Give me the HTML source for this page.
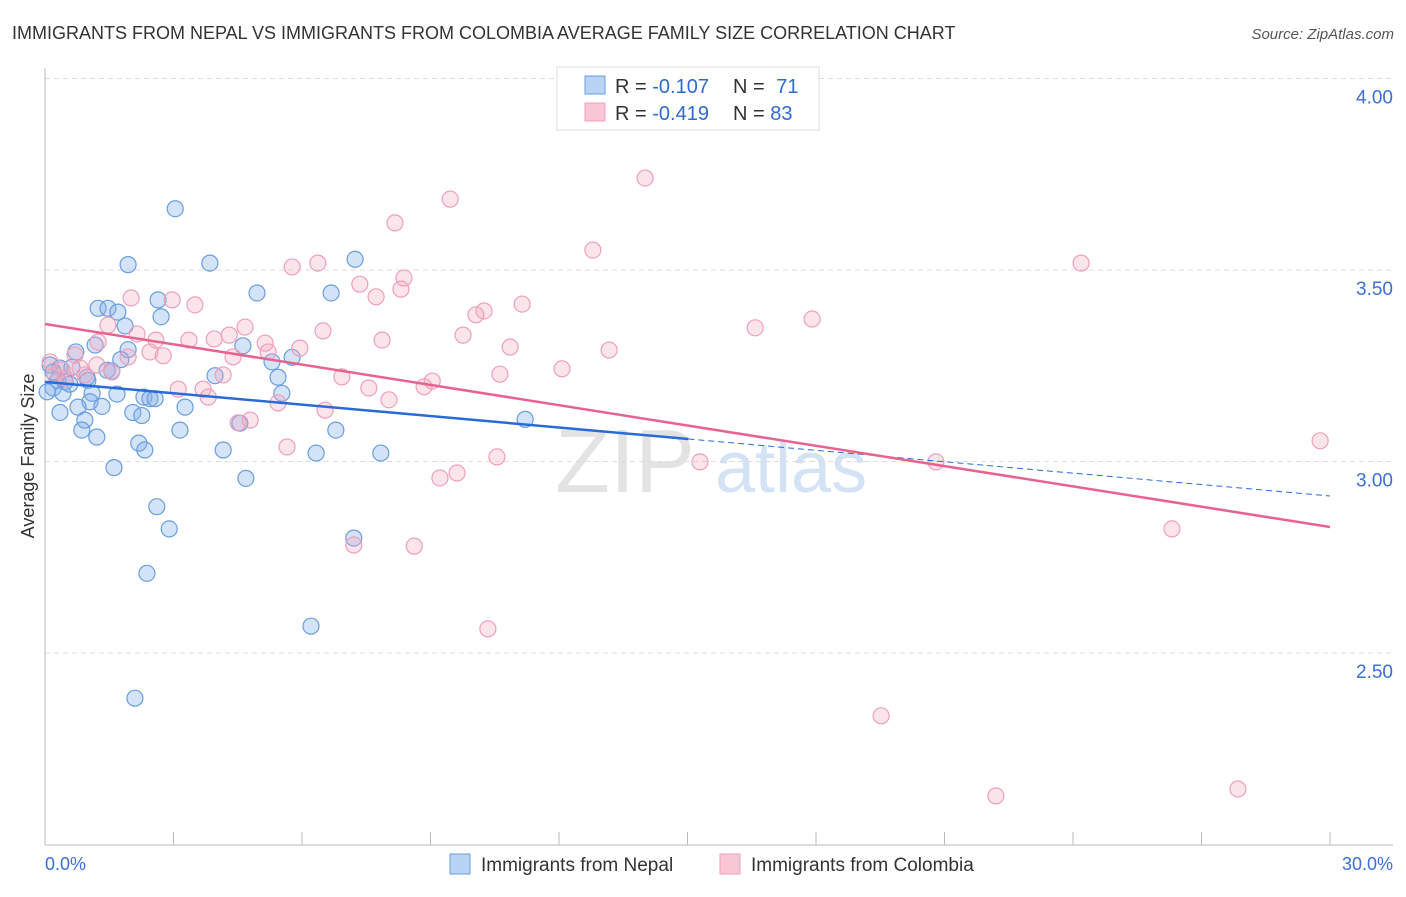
<!DOCTYPE html>
<html><head><meta charset="utf-8"><style>
body{margin:0;background:#fff;font-family:"Liberation Sans",sans-serif}
svg text{font-family:"Liberation Sans",sans-serif}
</style></head><body>
<svg id="c" width="1406" height="892">
<text x="12" y="39" font-size="18" fill="#333">IMMIGRANTS FROM NEPAL VS IMMIGRANTS FROM COLOMBIA AVERAGE FAMILY SIZE CORRELATION CHART</text>
<text x="1394" y="39" font-size="15" fill="#555" text-anchor="end" font-style="italic">Source: ZipAtlas.com</text>
<text x="34" y="456" font-size="18" fill="#333" text-anchor="middle" transform="rotate(-90 34 456)">Average Family Size</text>
<g><text x="555" y="492" font-size="90" font-family="Liberation Serif" fill="#ddd" opacity="0.8">ZIP</text><text x="715" y="492" font-size="72" fill="#c9dcf2" opacity="0.8">atlas</text></g>
<g id="grid"></g><g id="pts"></g><g id="lines"></g>
<g>
<rect x="557" y="67" width="262" height="63" fill="#fff" stroke="#ddd"/>
<rect x="585" y="76" width="20" height="18" fill="#b9d3f5" stroke="#6a9de0"/>
<rect x="585" y="103" width="20" height="18" fill="#f9c6d5" stroke="#eea0b8"/>
<text x="615" y="93" font-size="20" fill="#333">R = <tspan fill="#2f6ad0">-0.107</tspan></text>
<text x="733" y="93" font-size="20" fill="#333">N = <tspan fill="#2f6ad0" dx="6">71</tspan></text>
<text x="615" y="120" font-size="20" fill="#333">R = <tspan fill="#2f6ad0">-0.419</tspan></text>
<text x="733" y="120" font-size="20" fill="#333">N = <tspan fill="#2f6ad0">83</tspan></text>
</g>
<g>
<rect x="450" y="854" width="20" height="20" fill="#b9d3f5" stroke="#6a9de0"/>
<text x="481" y="871" font-size="19" fill="#333">Immigrants from Nepal</text>
<rect x="720" y="854" width="20" height="20" fill="#f9c6d5" stroke="#eea0b8"/>
<text x="751" y="871" font-size="19" fill="#333">Immigrants from Colombia</text>
</g>
<text x="45" y="870" font-size="18" fill="#3b6fd4">0.0%</text>
<text x="1393" y="870" font-size="18" fill="#3b6fd4" text-anchor="end">30.0%</text>
</svg>
<script>
const yTicks=[4.0,3.5,3.0,2.5];
const yTickLabels=["4.00","3.50","3.00","2.50"];
const nepalX=[3.04,1.94,3.85,7.24,4.95,6.68,2.64,1.24,1.47,1.70,2.71,1.87,1.17,1.94,4.62,0.72,5.77,1.77,5.30,0.12,0.35,0.63,1.45,1.56,3.97,5.44,0.30,0.47,1.00,0.19,0.42,1.10,1.68,5.53,2.31,2.45,2.57,1.05,0.77,1.33,3.27,0.35,2.05,2.26,0.93,4.55,11.21,0.86,3.15,6.79,1.21,2.19,2.33,4.16,6.33,7.84,1.61,4.69,2.61,2.90,7.21,2.38,6.21,2.10,0.19,0.05,0.58,0.98];
const nepalY=[3.66,3.514,3.518,3.528,3.44,3.44,3.422,3.40,3.40,3.39,3.378,3.354,3.304,3.292,3.302,3.286,3.272,3.266,3.26,3.252,3.244,3.246,3.238,3.236,3.224,3.22,3.212,3.208,3.212,3.192,3.178,3.178,3.176,3.178,3.168,3.164,3.164,3.156,3.142,3.144,3.142,3.128,3.128,3.12,3.108,3.10,3.11,3.082,3.082,3.082,3.064,3.048,3.03,3.03,3.022,3.022,2.984,2.956,2.882,2.824,2.80,2.708,2.57,2.382,3.234,3.182,3.202,3.22];
const colX=[14.01,9.46,8.17,12.79,24.19,6.37,5.77,8.38,7.35,8.31,2.01,2.97,3.50,7.73,11.14,10.25,10.06,17.91,16.58,6.49,4.67,1.47,2.15,3.95,4.30,2.59,3.36,5.14,7.87,9.76,10.86,13.17,1.24,2.45,2.76,4.39,5.95,5.21,0.70,1.94,0.12,0.40,0.82,1.21,1.56,4.16,6.93,12.07,10.62,9.04,8.85,3.11,3.69,7.56,3.81,8.03,5.44,6.54,4.79,4.51,5.65,9.22,9.62,10.55,15.29,20.80,29.77,7.21,8.62,26.31,10.34,19.52,22.20,27.85,0.23,0.93,0.47];
const colY=[3.740,3.685,3.623,3.552,3.518,3.518,3.508,3.479,3.463,3.450,3.427,3.422,3.409,3.430,3.411,3.393,3.383,3.372,3.349,3.341,3.351,3.356,3.333,3.320,3.330,3.317,3.317,3.309,3.317,3.330,3.299,3.291,3.312,3.286,3.276,3.273,3.296,3.286,3.278,3.273,3.260,3.239,3.244,3.252,3.234,3.226,3.221,3.242,3.228,3.210,3.195,3.189,3.189,3.192,3.168,3.161,3.153,3.134,3.108,3.101,3.038,2.957,2.970,3.012,2.999,2.999,3.054,2.782,2.779,2.824,2.563,2.336,2.127,2.145,3.226,3.226,3.218];
const nepalTrend=[3.208,2.910];
const colTrend=[3.359,2.829];
const NS='http://www.w3.org/2000/svg';
const X=v=>45+v/30*1285, Y=v=>78.5+(4-v)*383;
function mk(p,t,a){const e=document.createElementNS(NS,t);for(const k in a)e.setAttribute(k,a[k]);p.appendChild(e);return e;}
const g=document.getElementById('grid');
yTicks.forEach((t,i)=>{
 const l=mk(g,'line',{x1:45,x2:1393,y1:Y(t),y2:Y(t),stroke:'#ddd','stroke-dasharray':'5,4'});
 
 
 const tx=mk(g,'text',{x:1393,y:Y(t)+25,'font-size':19,fill:'#3b6fd4','text-anchor':'end'});tx.textContent=yTickLabels[i];
 
 
});
mk(g,'line',{x1:45,x2:45,y1:68,y2:845,stroke:'#bbb'});
mk(g,'line',{x1:45,x2:1393,y1:845,y2:845,stroke:'#bbb'});
for(let i=0;i<=10;i++){mk(g,'line',{x1:X(i*3),x2:X(i*3),y1:832,y2:845,stroke:'#bbb'});}
const pg=document.getElementById('pts');
nepalX.forEach((v,i)=>{const c=mk(pg,'circle',{cx:X(v),cy:Y(nepalY[i]),r:8,fill:'rgba(130,175,235,0.35)',stroke:'#6a9de0','stroke-width':1.2});
 
 });
colX.forEach((v,i)=>{const c=mk(pg,'circle',{cx:X(v),cy:Y(colY[i]),r:8,fill:'rgba(245,165,190,0.3)',stroke:'#eea0b8','stroke-width':1.2});
 
 });
const lg=document.getElementById('lines');
const nAt=x=>nepalTrend[0]+(nepalTrend[1]-nepalTrend[0])*x/30;
let a=mk(lg,'line',{x1:X(0),y1:Y(nAt(0)),x2:X(15.02),y2:Y(nAt(15.02)),stroke:'#2a6ad6','stroke-width':2.5});


a=mk(lg,'line',{x1:X(15.02),y1:Y(nAt(15.02)),x2:X(30),y2:Y(nAt(30)),stroke:'#2a6ad6','stroke-width':1,'stroke-dasharray':'6,4'});


a=mk(lg,'line',{x1:X(0),y1:Y(colTrend[0]),x2:X(30),y2:Y(colTrend[1]),stroke:'#e8628e','stroke-width':2.5});


</script>
</body></html>
